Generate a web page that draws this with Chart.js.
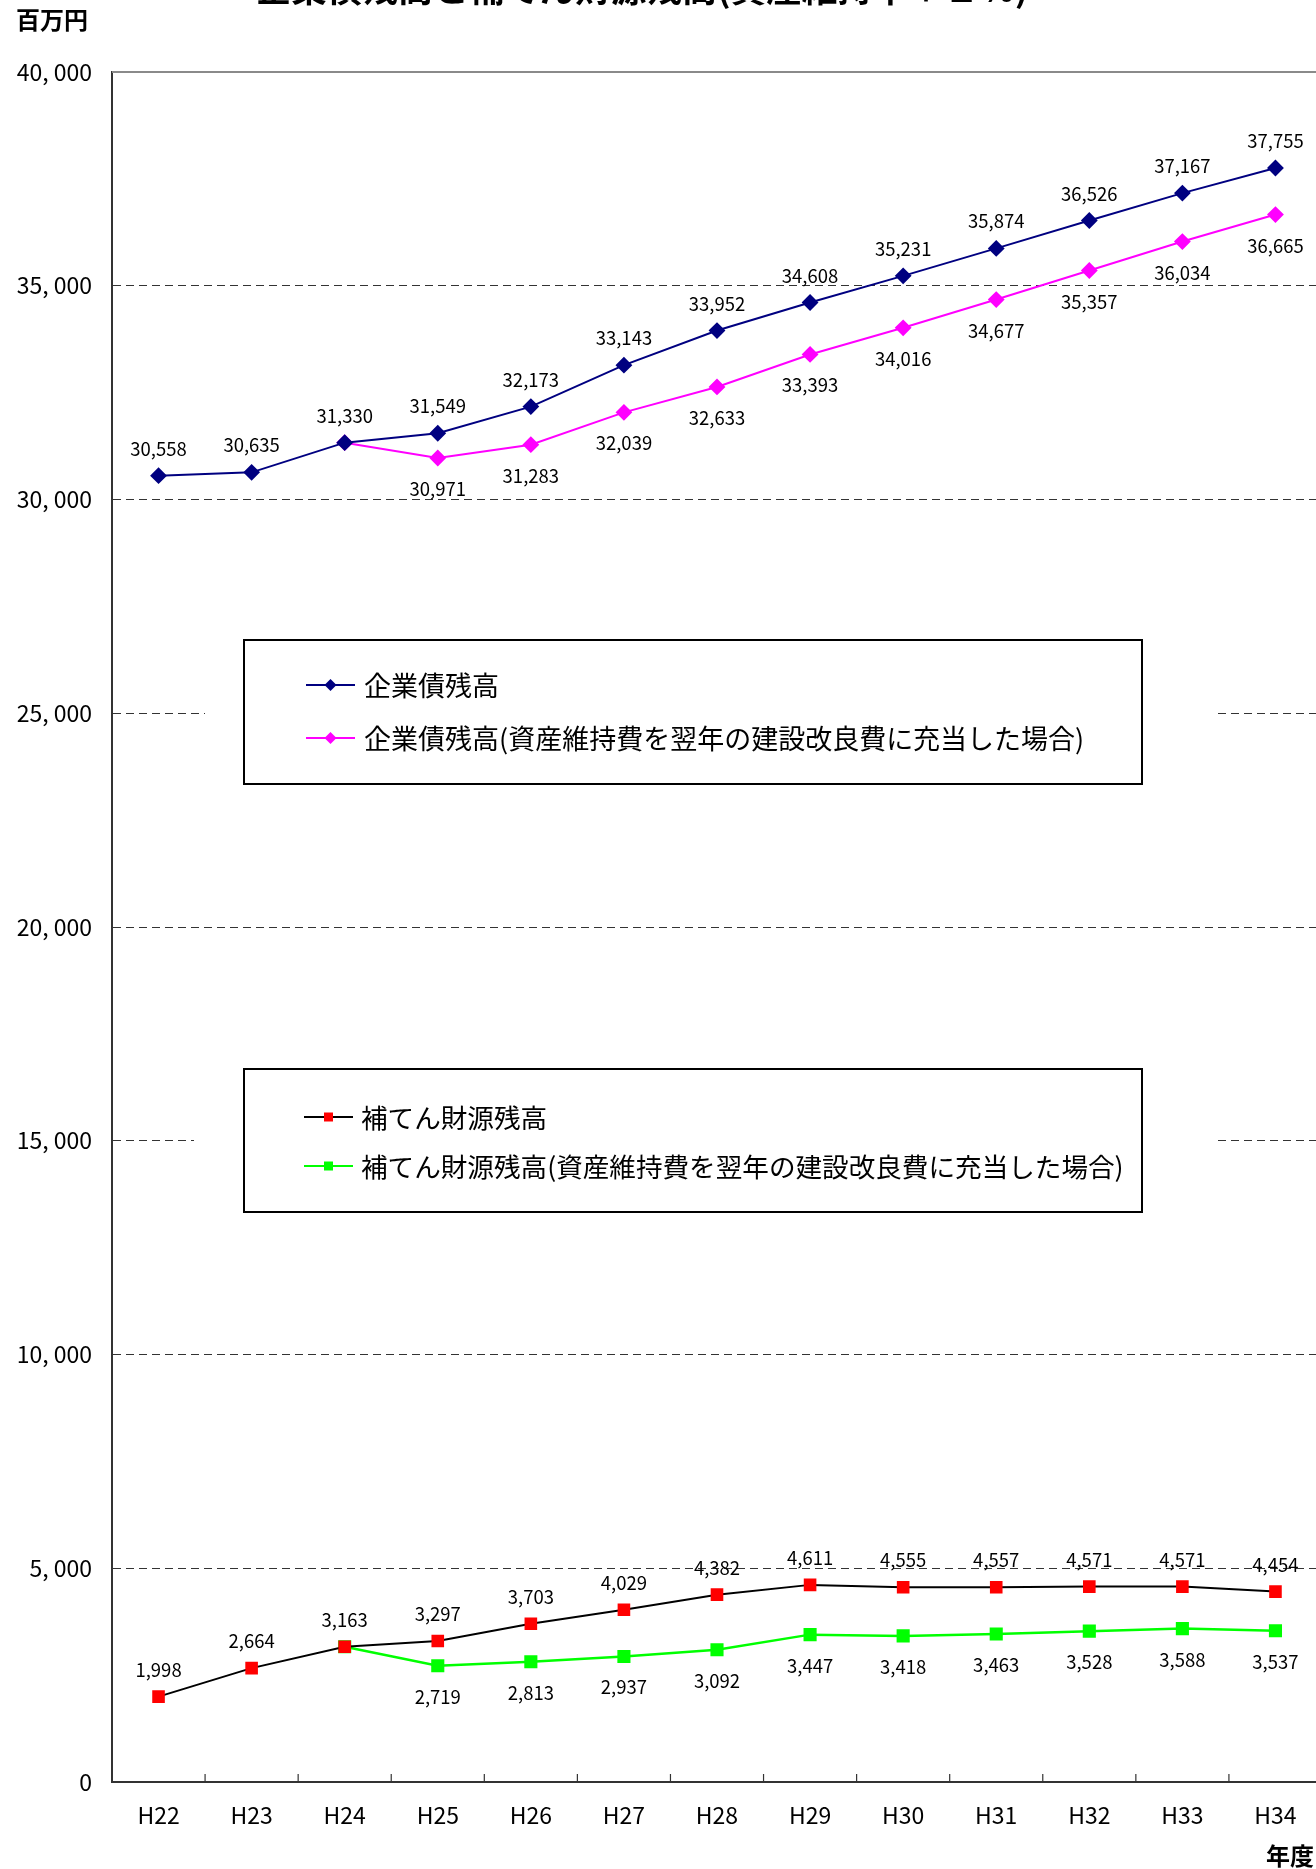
<!DOCTYPE html>
<html><head><meta charset="utf-8">
<script src="https://cdn.jsdelivr.net/npm/chart.js@4"></script>
<style>
html,body{margin:0;padding:0;background:#fff;overflow:hidden;width:1316px;height:1869px;}
#wrap{position:relative;width:1322px;height:1869px;}
canvas{display:block;}
</style></head><body>
<div id="wrap"><canvas id="c" width="1322" height="1869"></canvas></div>
<script>
const categories = ['H22','H23','H24','H25','H26','H27','H28','H29','H30','H31','H32','H33','H34'];
const bondBalance = [30558,30635,31330,31549,32173,33143,33952,34608,35231,35874,36526,37167,37755];
const bondBalanceAlt = [null,null,31330,30971,31283,32039,32633,33393,34016,34677,35357,36034,36665];
const reserveBalance = [1998,2664,3163,3297,3703,4029,4382,4611,4555,4557,4571,4571,4454];
const reserveBalanceAlt = [null,null,3163,2719,2813,2937,3092,3447,3418,3463,3528,3588,3537];
const seriesNames = ['企業債残高','企業債残高(資産維持費を翌年の建設改良費に充当した場合)','補てん財源残高','補てん財源残高(資産維持費を翌年の建設改良費に充当した場合)'];
const yMin = 0, yMax = 40000, yStep = 5000;
const titleText = '企業債残高と補てん財源残高(資産維持率＋１％)';
const yUnit = '百万円';
const xUnit = '年度';

const FONT = "'Noto Sans CJK JP','Noto Sans',sans-serif";
const fmt = v => v.toLocaleString('en-US');

const labelPlugin = {
  id: 'valueLabels',
  afterDatasetsDraw(chart) {
    const ctx = chart.ctx;
    ctx.save();
    ctx.font = '18.5px ' + FONT;
    ctx.fillStyle = '#000';
    ctx.textAlign = 'center';
    ctx.textBaseline = 'middle';
    chart.data.datasets.forEach((ds, di) => {
      const meta = chart.getDatasetMeta(di);
      meta.data.forEach((pt, i) => {
        const v = ds.data[i];
        if (v == null) return;
        if (ds.skipLabel && ds.skipLabel.includes(i)) return;
        const dy = ds.labelPos === 'above' ? -27 : 31;
        ctx.fillText(fmt(v), pt.x, pt.y + dy);
      });
    });
    ctx.restore();
  }
};

function drawMarker(ctx, style, color, r, x, y) {
  ctx.save();
  ctx.fillStyle = color;
  ctx.beginPath();
  if (style === 'rectRot') {
    ctx.moveTo(x, y - r); ctx.lineTo(x + r, y); ctx.lineTo(x, y + r); ctx.lineTo(x - r, y);
  } else {
    ctx.rect(x - r, y - r, 2 * r, 2 * r);
  }
  ctx.closePath();
  ctx.fill();
  ctx.restore();
}

const decorPlugin = {
  id: 'decor',
  afterDraw(chart) {
    const ctx = chart.ctx;
    const xs = chart.scales.x, ys = chart.scales.y;
    const area = chart.chartArea;
    ctx.save();
    // top border line
    ctx.strokeStyle = '#8a8a8a';
    ctx.lineWidth = 2;
    ctx.beginPath();
    ctx.moveTo(area.left, ys.getPixelForValue(yMax));
    ctx.lineTo(area.right, ys.getPixelForValue(yMax));
    ctx.stroke();
    // inward tick marks between categories
    ctx.strokeStyle = '#333';
    ctx.lineWidth = 1.2;
    for (let k = 1; k < categories.length; k++) {
      const x = (xs.getPixelForValue(k - 1) + xs.getPixelForValue(k)) / 2;
      ctx.beginPath();
      ctx.moveTo(x, area.bottom - 8);
      ctx.lineTo(x, area.bottom);
      ctx.stroke();
    }
    // title (clipped at top)
    ctx.fillStyle = '#000';
    ctx.font = 'bold 35.5px ' + FONT;
    ctx.textAlign = 'center';
    ctx.textBaseline = 'alphabetic';
    ctx.fillText(titleText, 642, 2);
    // units
    ctx.font = 'bold 24px ' + FONT;
    ctx.textAlign = 'left';
    ctx.textBaseline = 'middle';
    ctx.fillText(yUnit, 16, 20);
    ctx.fillText(xUnit, 1266, 1856);

    // legends
    const ds = chart.data.datasets;
    const boxes = [
      {mask: [205, 1217], x0: 244, x1: 1142, y0: 640, y1: 784, items: [0, 1], ys: [685, 738], lx: [306, 355], tx: 364, fs: 27},
      {mask: [194, 1217], x0: 244, x1: 1142, y0: 1069, y1: 1212, items: [2, 3], ys: [1117, 1166], lx: [304, 353], tx: 361, fs: 26.6}
    ];
    boxes.forEach(b => {
      ctx.fillStyle = '#fff';
      ctx.fillRect(b.mask[0], b.y0 - 2, b.mask[1] - b.mask[0], b.y1 - b.y0 + 4);
      ctx.strokeStyle = '#000';
      ctx.lineWidth = 2;
      ctx.strokeRect(b.x0, b.y0, b.x1 - b.x0, b.y1 - b.y0);
      b.items.forEach((di, j) => {
        const d = ds[di];
        const y = b.ys[j];
        ctx.strokeStyle = d.borderColor;
        ctx.lineWidth = 2;
        ctx.beginPath();
        ctx.moveTo(b.lx[0], y);
        ctx.lineTo(b.lx[1], y);
        ctx.stroke();
        drawMarker(ctx, d.pointStyle, d.pointBackgroundColor, d.pointStyle === 'rectRot' ? 6 : 4.5, (b.lx[0] + b.lx[1]) / 2, y);
        ctx.fillStyle = '#000';
        ctx.font = b.fs + 'px ' + FONT;
        ctx.textAlign = 'left';
        ctx.textBaseline = 'middle';
        ctx.fillText(d.label, b.tx, y + 1);
      });
    });
    ctx.restore();
  }
};

new Chart(document.getElementById('c'), {
  type: 'line',
  data: {
    labels: categories,
    datasets: [
      {label: seriesNames[0], data: bondBalance, borderColor: '#000080', backgroundColor: '#000080',
       pointBackgroundColor: '#000080', pointBorderColor: '#000080', pointStyle: 'rectRot', pointRadius: 7,
       borderWidth: 2, labelPos: 'above', order: 2},
      {label: seriesNames[1], data: bondBalanceAlt, borderColor: '#FF00FF', backgroundColor: '#FF00FF',
       pointBackgroundColor: '#FF00FF', pointBorderColor: '#FF00FF', pointStyle: 'rectRot', pointRadius: 7,
       borderWidth: 2, labelPos: 'below', skipLabel: [2], order: 3},
      {label: seriesNames[2], data: reserveBalance, borderColor: '#000000', backgroundColor: '#FF0000',
       pointBackgroundColor: '#FF0000', pointBorderColor: '#FF0000', pointStyle: 'rect', pointRadius: 7.5,
       borderWidth: 2, labelPos: 'above', order: 0},
      {label: seriesNames[3], data: reserveBalanceAlt, borderColor: '#00FF00', backgroundColor: '#00FF00',
       pointBackgroundColor: '#00FF00', pointBorderColor: '#00FF00', pointStyle: 'rect', pointRadius: 7.5,
       borderWidth: 2.5, labelPos: 'below', skipLabel: [2], order: 1}
    ]
  },
  options: {
    responsive: false,
    animation: false,
    devicePixelRatio: 1,
    spanGaps: false,
    layout: {autoPadding: false, padding: {top: 72, left: 0, right: 0, bottom: 0}},
    elements: {line: {tension: 0}, point: {borderWidth: 0, hoverRadius: 7}},
    plugins: {legend: {display: false}, title: {display: false}, tooltip: {enabled: false}},
    scales: {
      x: {
        type: 'category',
        offset: true,
        grid: {display: false, drawTicks: false},
        border: {display: true, color: '#333', width: 2},
        ticks: {color: '#000', font: {size: 23, family: FONT}, padding: 19, maxRotation: 0, autoSkip: false},
        afterFit: s => { s.height = 87; }
      },
      y: {
        min: yMin, max: yMax,
        grid: {
          drawTicks: false,
          color: c => (c.tick && (c.tick.value === yMin || c.tick.value === yMax)) ? 'rgba(0,0,0,0)' : '#333',
          lineWidth: 1
        },
        border: {display: true, color: '#333', width: 2, dash: [8, 5]},
        ticks: {
          stepSize: yStep, color: '#000', padding: 20,
          font: {size: 23, family: FONT},
          callback: v => v === 0 ? '0' : fmt(v).replace(',', ', ')
        },
        afterFit: s => { s.width = 112; }
      }
    }
  },
  plugins: [labelPlugin, decorPlugin]
});
</script>
</body></html>
